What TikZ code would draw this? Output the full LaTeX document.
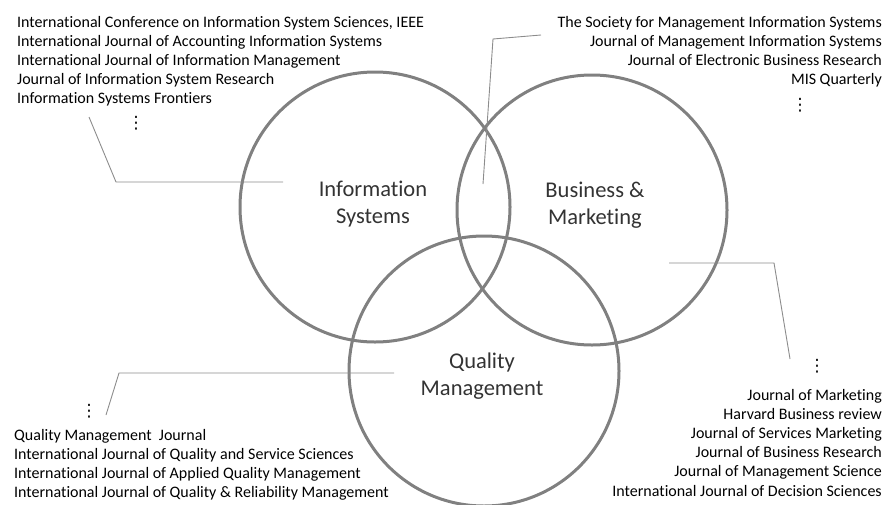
\documentclass[tikz,border=0pt]{standalone}
\usepackage{fontspec}
\setmainfont{Carlito}[Ligatures=NoCommon]
\newfontfamily\symfont{DejaVu Sans}
\usepackage{tikz}
\usetikzlibrary{calc}
\definecolor{venngray}{RGB}{128,128,128}
\definecolor{leadgray}{RGB}{140,140,140}

\begin{document}
\begin{tikzpicture}[x=1pt,y=-1pt,
  ring/.style={draw=venngray,line width=3pt},
  lead/.style={draw=leadgray,line width=0.9pt},
  area/.style={font=\fontsize{22.5}{27}\selectfont,align=center,text=black!80,inner sep=0},
  jrnl/.style={font=\fontsize{16}{19.2}\selectfont,inner sep=0},
  more/.style={font=\symfont\fontsize{17}{17}\selectfont,inner sep=0}]
  \useasboundingbox (0,0) rectangle (886,504);
  % three venn rings, pixel coordinates (y grows downward)
  \draw[ring] (375,207) circle[radius=135];
  \draw[ring] (592,210) circle[radius=135];
  \draw[ring] (484,371) circle[radius=135];
  % area titles
  \node[area] (infosys) at (373,204) {Information\\Systems};
  \node[area] (busmkt) at (595,205) {Business \&\\Marketing};
  \node[area] (qualmgt) at (482,376) {Quality\\Management};
  % journal lists: top left (information systems)
  \foreach \t [count=\i] in {{International Conference on Information System Sciences, IEEE},
      International Journal of Accounting Information Systems,
      International Journal of Information Management,
      Journal of Information System Research,
      Information Systems Frontiers}{
    \node[jrnl,anchor=base west] (isj-\i) at (17,{27+19.2*(\i-1)}) {\t};}
  \node[more] (isdots) at (136,123) {⋮};
  % top right (intersection)
  \foreach \t [count=\i] in {The Society for Management Information Systems,
      Journal of Management Information Systems,
      Journal of Electronic Business Research,
      MIS Quarterly}{
    \node[jrnl,anchor=base east] (mis-\i) at (882,{27+19.2*(\i-1)}) {\t};}
  \node[more] (misdots) at (800,105) {⋮};
  % bottom left (quality management)
  \foreach \t [count=\i] in {Quality Management\ \ Journal,
      International Journal of Quality and Service Sciences,
      International Journal of Applied Quality Management,
      International Journal of Quality \& Reliability Management}{
    \node[jrnl,anchor=base west] (qmj-\i) at (14,{440.5+19.1*(\i-1)}) {\t};}
  \node[more] (qmdots) at (89,411) {⋮};
  % bottom right (business & marketing)
  \foreach \t [count=\i] in {Journal of Marketing,
      Harvard Business review,
      Journal of Services Marketing,
      Journal of Business Research,
      Journal of Management Science,
      International Journal of Decision Sciences}{
    \node[jrnl,anchor=base east] (bmj-\i) at (882,{400+19.2*(\i-1)}) {\t};}
  \node[more] (bmdots) at (817,366) {⋮};
  % leader lines
  \coordinate (is-a) at (89,117);
  \coordinate (is-b) at (116,182);
  \coordinate (is-c) at (283,182);
  \draw[lead] (is-a) -- (is-b) -- (is-c);
  \coordinate (mis-a) at (541,35);
  \coordinate (mis-b) at (493,39);
  \coordinate (mis-c) at (483,184);
  \draw[lead] (mis-a) -- (mis-b) -- (mis-c);
  \coordinate (qm-a) at (106,415);
  \coordinate (qm-b) at (119,373);
  \coordinate (qm-c) at (394,373);
  \draw[lead] (qm-a) -- (qm-b) -- (qm-c);
  \coordinate (bm-a) at (669,263);
  \coordinate (bm-b) at (774,263);
  \coordinate (bm-c) at (790,359);
  \draw[lead] (bm-a) -- (bm-b) -- (bm-c);
\end{tikzpicture}
\end{document}
